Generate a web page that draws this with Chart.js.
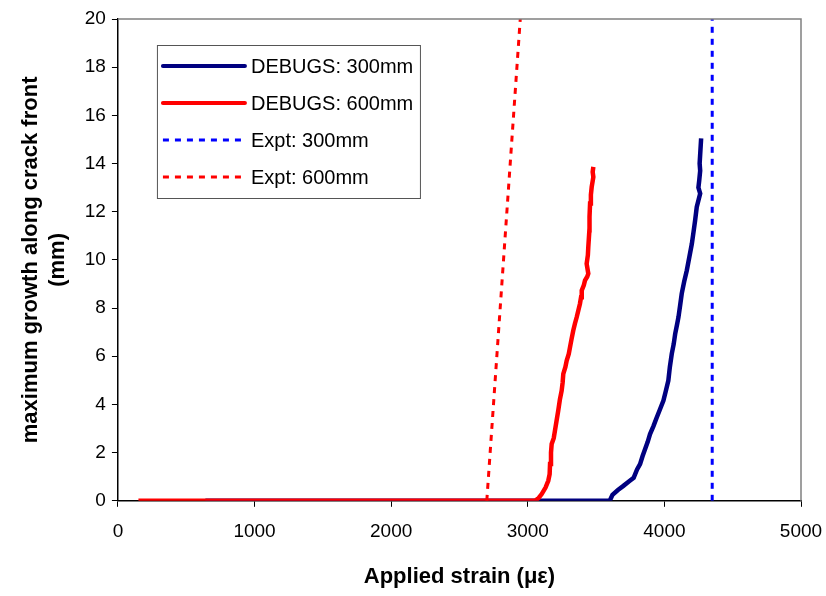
<!DOCTYPE html>
<html>
<head>
<meta charset="utf-8">
<script src="https://cdn.jsdelivr.net/npm/chart.js@4/dist/chart.umd.min.js"></script>
<style>
  html, body { margin: 0; padding: 0; background: #fff; }
  #wrap { width: 826px; height: 596px; }
</style>
</head>
<body>
<div id="wrap"><canvas id="crackChart" width="826" height="596"></canvas></div>
<script>
// DEBUGS 300mm
var debugs300Strain = [640, 3600, 3620, 3660, 3700, 3740, 3775, 3800, 3822, 3840, 3859, 3878, 3895, 3920, 3944, 3968, 3993, 4010, 4029, 4040, 4054, 4068, 4079, 4092, 4103, 4115, 4127, 4145, 4164, 4182, 4201, 4213, 4225, 4237, 4262, 4249, 4255, 4262, 4258, 4269];
var debugs300Growth = [0, 0, 0.25, 0.45, 0.62, 0.8, 0.95, 1.3, 1.52, 1.85, 2.15, 2.45, 2.77, 3.1, 3.46, 3.8, 4.16, 4.55, 4.99, 5.55, 6.1, 6.5, 6.93, 7.3, 7.62, 8.1, 8.6, 9.1, 9.56, 10.1, 10.67, 11.15, 11.64, 12.2, 12.75, 13.0, 13.3, 13.7, 14.0, 15.04];

// DEBUGS 600mm
var debugs600Strain = [150, 3053, 3080, 3102, 3130, 3150, 3160, 3163, 3170, 3175, 3190, 3199, 3210, 3223, 3235, 3248, 3255, 3260, 3275, 3285, 3300, 3309, 3320, 3333, 3345, 3358, 3370, 3382, 3390, 3395, 3410, 3419, 3435, 3443, 3431, 3440, 3443, 3451, 3452, 3456, 3462, 3468, 3480, 3475, 3480];
var debugs600Growth = [0, 0, 0.12, 0.28, 0.55, 0.83, 1.1, 1.53, 2.0, 2.36, 2.6, 2.91, 3.3, 3.74, 4.2, 4.57, 4.9, 5.27, 5.55, 5.82, 6.1, 6.37, 6.7, 7.07, 7.35, 7.62, 7.9, 8.18, 8.45, 8.73, 8.95, 9.15, 9.3, 9.43, 9.84, 10.2, 10.53, 11.23, 11.8, 12.34, 12.7, 13.03, 13.44, 13.65, 13.86];

// experiments
var expt300Strain = [4350, 4350];
var expt300Growth = [0, 20];
var expt600Strain = [2700, 2945];
var expt600Growth = [0, 20];

var seriesLabels = ['DEBUGS: 300mm', 'DEBUGS: 600mm', 'Expt: 300mm', 'Expt: 600mm'];

function toPoints(xs, ys) {
  return xs.map(function (x, i) { return { x: x, y: ys[i] }; });
}

// legend box inside the plot + grey frame on top/right
var boxLegend = {
  id: 'boxLegend',
  afterDraw: function (chart) {
    var ctx = chart.ctx, a = chart.chartArea;
    ctx.save();
    ctx.strokeStyle = '#808080';
    ctx.lineWidth = 1.5;
    ctx.beginPath();
    ctx.moveTo(a.left, a.top);
    ctx.lineTo(a.right, a.top);
    ctx.lineTo(a.right, a.bottom);
    ctx.stroke();

    var bx = a.left + 39, by = a.top + 26, bw = 263, bh = 153;
    ctx.strokeStyle = '#555';
    ctx.lineWidth = 1;
    ctx.strokeRect(bx + 0.5, by + 0.5, bw, bh);
    ctx.font = '20px "Liberation Sans", Arial, sans-serif';
    ctx.fillStyle = '#000';
    ctx.textBaseline = 'middle';
    chart.data.datasets.forEach(function (ds, i) {
      var ly = by + 21 + i * 37;
      ctx.beginPath();
      ctx.strokeStyle = ds.borderColor;
      ctx.lineWidth = ds.borderDash.length ? 3 : 4;
      ctx.setLineDash(ds.borderDash);
      ctx.lineCap = ds.borderDash.length ? 'butt' : 'round';
      ctx.moveTo(bx + 6, ly);
      ctx.lineTo(bx + 88, ly);
      ctx.stroke();
      ctx.setLineDash([]);
      ctx.fillText(ds.label, bx + 94, ly + 1);
    });
    ctx.restore();
  }
};

var tickFont = { family: '"Liberation Sans", Arial, sans-serif', size: 19 };
var titleFont = { family: '"Liberation Sans", Arial, sans-serif', size: 22, weight: 'bold' };

new Chart(document.getElementById('crackChart'), {
  type: 'scatter',
  data: {
    datasets: [{
      label: seriesLabels[0],
      data: toPoints(debugs300Strain, debugs300Growth),
      showLine: true,
      borderColor: '#000080',
      borderWidth: 4.5,
      borderDash: [],
      pointRadius: 0,
      order: 2
    }, {
      label: seriesLabels[1],
      data: toPoints(debugs600Strain, debugs600Growth),
      showLine: true,
      borderColor: '#ff0000',
      borderWidth: 4.5,
      borderDash: [],
      pointRadius: 0,
      order: 1
    }, {
      label: seriesLabels[2],
      data: toPoints(expt300Strain, expt300Growth),
      showLine: true,
      borderColor: '#0000ff',
      borderWidth: 3,
      borderDash: [6, 6],
      pointRadius: 0,
      order: 0
    }, {
      label: seriesLabels[3],
      data: toPoints(expt600Strain, expt600Growth),
      showLine: true,
      borderColor: '#ff0000',
      borderWidth: 3,
      borderDash: [6, 6],
      pointRadius: 0,
      order: 0
    }]
  },
  options: {
    responsive: false,
    animation: false,
    layout: { padding: { top: 19, right: 25, left: 14, bottom: 2 } },
    plugins: {
      legend: { display: false },
      tooltip: { enabled: false }
    },
    scales: {
      x: {
        type: 'linear',
        min: 0,
        max: 5000,
        afterFit: function (s) { s.paddingLeft = 0; s.paddingRight = 0; },
        ticks: { stepSize: 1000, color: '#000', font: tickFont, padding: 14, maxRotation: 0,
          callback: function (v) { return String(v); } },
        grid: { drawOnChartArea: false, drawTicks: true, tickLength: 6, color: '#000' },
        border: { display: true, color: '#000', width: 1.5 },
        title: { display: true, text: 'Applied strain (\u03bc\u03b5)', color: '#000', font: titleFont, padding: { top: 6 } }
      },
      y: {
        min: 0,
        max: 20,
        afterFit: function (s) { s.paddingTop = 0; s.paddingBottom = 0; },
        ticks: { stepSize: 2, color: '#000', font: tickFont, padding: 6 },
        grid: { drawOnChartArea: false, drawTicks: true, tickLength: 6, color: '#000' },
        border: { display: true, color: '#000', width: 1.5 },
        title: { display: true, text: ['maximum growth along crack front', '(mm)'], color: '#000', font: titleFont, padding: { bottom: 8 } }
      }
    }
  },
  plugins: [boxLegend]
});
</script>
</body>
</html>
